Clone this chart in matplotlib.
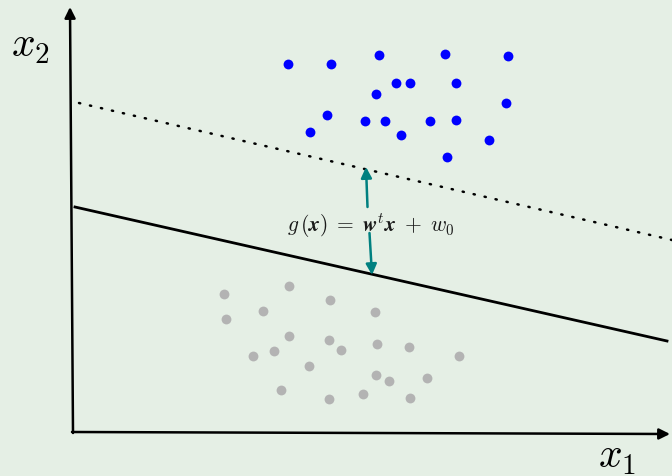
import numpy as np
import matplotlib
matplotlib.use("Agg")
import matplotlib.pyplot as plt

plt.rcParams['mathtext.fontset'] = 'cm'

# picture coordinates (pixels, y downwards)
blue_x = [288, 331, 379, 445, 508, 396, 410, 456, 376, 327, 310, 365, 385, 401, 430, 456, 506, 489, 447]
blue_y = [64, 64, 55, 54, 56, 83, 83, 83, 94, 115, 132, 121, 121, 135, 121, 120, 103, 140, 157]

grey_x = [224, 289, 330, 263, 226, 375, 289, 329, 341, 377, 409, 274, 253, 309, 459, 376, 389, 427, 281, 329, 363, 410]
grey_y = [294, 286, 300, 311, 319, 312, 336, 340, 350, 344, 347, 351, 356, 366, 356, 375, 381, 378, 390, 399, 394, 398]

# decision line and margin line (end points)
solid_x = [75, 667]
solid_y = [207, 341]
dotted_x = [79, 672]
dotted_y = [103, 240]

bg = '#e5efe5'
fig = plt.figure(figsize=(6.72, 4.76), dpi=100, facecolor=bg)
ax = fig.add_axes([0, 0, 1, 1])
ax.set_facecolor(bg)
ax.set_xlim(0, 672)
ax.set_ylim(476, 0)
ax.axis('off')

# axes arrows
ax.annotate('', xy=(670, 434), xytext=(72, 432),
            arrowprops=dict(arrowstyle='-|>', color='black', lw=1.8, mutation_scale=16, shrinkA=0, shrinkB=0))
ax.annotate('', xy=(70, 7), xytext=(73, 433),
            arrowprops=dict(arrowstyle='-|>', color='black', lw=1.8, mutation_scale=16, shrinkA=0, shrinkB=0))

ax.plot(solid_x, solid_y, color='black', lw=2)
ax.plot(dotted_x, dotted_y, color='black', lw=1.8, linestyle=(0, (0.5, 4)), dash_capstyle='round')

ax.scatter(blue_x, blue_y, s=50, color='#0000ff', zorder=3, linewidths=0)
ax.scatter(grey_x, grey_y, s=50, color='#b3b3b3', zorder=3, linewidths=0)

# distance arrows
ax.annotate('', xy=(366, 167), xytext=(367.5, 207),
            arrowprops=dict(arrowstyle='-|>', color='#008080', lw=1.8, mutation_scale=16, shrinkA=0, shrinkB=0))
ax.annotate('', xy=(372, 275), xytext=(369.5, 233),
            arrowprops=dict(arrowstyle='-|>', color='#008080', lw=1.8, mutation_scale=16, shrinkA=0, shrinkB=0))

ax.text(371, 226, r'$g\,(\mathbfit{x})\;=\;\mathbfit{w}^t\mathbfit{x}\;+\;w_0$', fontsize=15.5,
        ha='center', va='center', color='#1a1a1a')

ax.text(30, 45, r'$x_2$', fontsize=30, ha='center', va='center')
ax.text(617, 456, r'$x_1$', fontsize=30, ha='center', va='center')

fig.savefig('out.png', dpi=100, facecolor=bg)
